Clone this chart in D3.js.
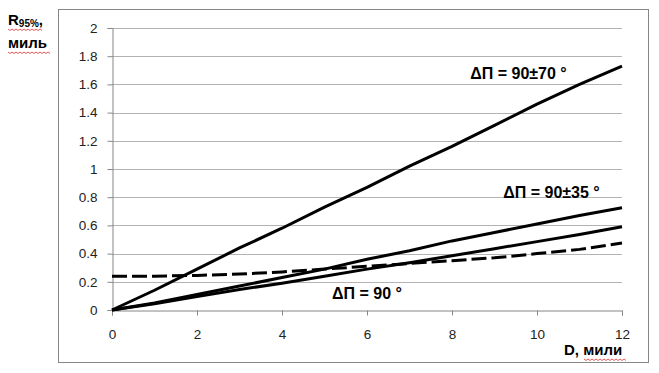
<!DOCTYPE html>
<html><head><meta charset="utf-8">
<script src="https://cdn.jsdelivr.net/npm/d3@7"></script>
<style>body{margin:0;background:#fff}svg{display:block}</style>
</head><body>
<svg id="c" width="659" height="373"></svg>
<script>
const xValues = [0,1,2,3,4,5,6,7,8,9,10,11,12];
const series70 = [0,0.14,0.29,0.44,0.58,0.73,0.87,1.02,1.16,1.31,1.46,1.60,1.73];
const series35 = [0,0.05,0.11,0.17,0.23,0.29,0.36,0.42,0.49,0.55,0.61,0.67,0.725];
const series90 = [0,0.045,0.095,0.145,0.19,0.24,0.29,0.335,0.385,0.435,0.485,0.535,0.59];
const seriesDash = [0.24,0.24,0.245,0.255,0.27,0.29,0.31,0.33,0.35,0.37,0.40,0.43,0.475];
const xTicks = [0,2,4,6,8,10,12];
const yTicks = [0,0.2,0.4,0.6,0.8,1,1.2,1.4,1.6,1.8,2];
const labels = ["ΔП = 90±70 °","ΔП = 90±35 °","ΔП = 90 °"];

const svg = d3.select("#c");
const font = "'Liberation Sans', Arial, sans-serif";
svg.append("rect").attr("x",58.5).attr("y",9.5).attr("width",590).attr("height",353)
  .attr("fill","#fff").attr("stroke","#868686").attr("stroke-width",1);

const x = d3.scaleLinear().domain([0,12]).range([112,622]);
const y = d3.scaleLinear().domain([0,2]).range([310,28]);

// grid
svg.append("g").selectAll("line").data(yTicks.filter(d=>d>0)).join("line")
  .attr("x1",x(0)).attr("x2",x(12)).attr("y1",d=>Math.round(y(d))+0.5).attr("y2",d=>Math.round(y(d))+0.5)
  .attr("stroke","#b3b3b3").attr("stroke-width",1);

const yAxis = svg.append("g").attr("transform",`translate(${x(0)+0.5},0)`)
  .call(d3.axisLeft(y).tickValues(yTicks).tickFormat(d=>String(+d.toFixed(1))).tickSize(5).tickPadding(10));
const xAxis = svg.append("g").attr("transform",`translate(0,${Math.round(y(0))+0.5})`)
  .call(d3.axisBottom(x).tickValues(xTicks).tickFormat(d=>d).tickSize(5).tickPadding(14));
[yAxis,xAxis].forEach(g=>{
  g.select(".domain").attr("stroke","#868686");
  g.selectAll(".tick line").attr("stroke","#868686");
  g.selectAll("text").attr("font-family",font).attr("font-size",13.5).attr("fill","#222");
});

const line = d3.line().x((d,i)=>x(xValues[i])).y(d=>y(d));
[series70,series35,series90].forEach(s=>{
  svg.append("path").attr("d",line(s)).attr("fill","none").attr("stroke","#000").attr("stroke-width",3).attr("stroke-linejoin","round");
});
svg.append("path").attr("d",line(seriesDash)).attr("fill","none").attr("stroke","#000")
  .attr("stroke-width",3).attr("stroke-dasharray","15,5");

const lab = [[518.5,79],[551.5,198],[367,299]];
labels.forEach((t,i)=>{
  svg.append("text").attr("x",lab[i][0]).attr("y",lab[i][1]).attr("text-anchor","middle")
    .attr("font-family",font).attr("font-weight","bold").attr("font-size",16).attr("fill","#000").text(t);
});

// axis titles
const yt = svg.append("text").attr("x",8).attr("y",25).attr("font-family",font).attr("font-weight","bold").attr("font-size",15).attr("fill","#000");
yt.append("tspan").text("R");
yt.append("tspan").attr("font-size",10).attr("dy",2).text("95%");
yt.append("tspan").attr("dy",-2).text(",");
svg.append("text").attr("x",8).attr("y",48).attr("font-family",font).attr("font-weight","bold").attr("font-size",15).attr("fill","#000").text("миль");
svg.append("text").attr("x",564).attr("y",355).attr("font-family",font).attr("font-weight","bold").attr("font-size",15).attr("fill","#000").text("D, мили");

// spell-check wavy underlines
function wavy(x0,x1,yy){
  let d=`M${x0},${yy}`;
  for(let xx=x0,k=0;xx<x1;xx+=2,k++) d+=`L${xx+2},${yy+(k%2?0:1.5)}`;
  svg.append("path").attr("d",d).attr("fill","none").attr("stroke","#e03030").attr("stroke-width",0.8);
}
wavy(8,42,29); wavy(8,50,52); wavy(584,626,359);
</script>
</body></html>
